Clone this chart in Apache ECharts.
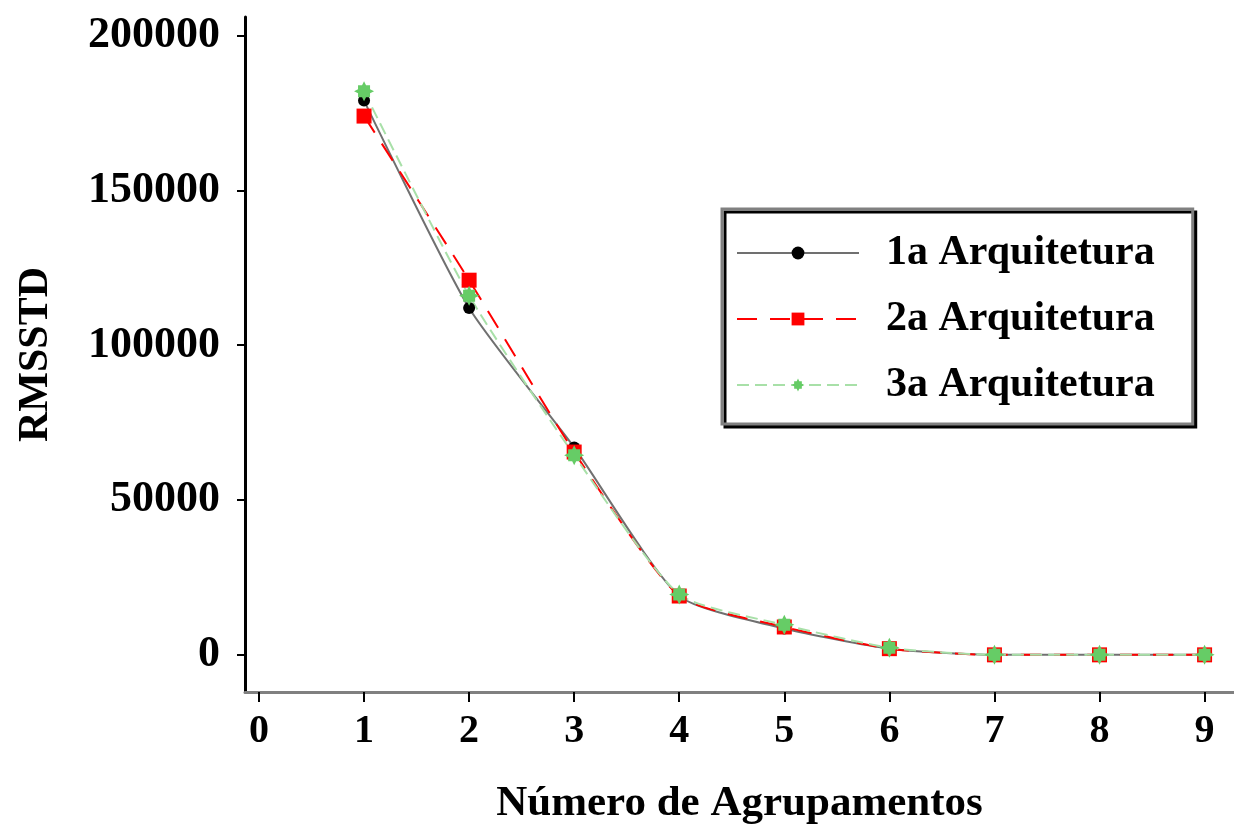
<!DOCTYPE html>
<html>
<head>
<meta charset="utf-8">
<script src="https://cdn.jsdelivr.net/npm/echarts@6/dist/echarts.min.js"></script>
<style>html,body{margin:0;padding:0;background:#fff}#c{width:1234px;height:834px}</style>
</head>
<body>
<div id="c"></div>
<script>
var xValues = [1, 2, 3, 4, 5, 6, 7, 8, 9];
var arq1 = [179000, 112000, 67000, 19000, 8500, 2000, 0, 0, 0];
var arq2 = [174000, 121000, 65500, 19000, 9000, 2000, 0, 0, 0];
var arq3 = [182000, 116000, 64500, 19500, 9700, 2300, 0, 0, 0];
var seriesNames = ['1a Arquitetura', '2a Arquitetura', '3a Arquitetura'];
var yTicks = [0, 50000, 100000, 150000, 200000];
var xTicks = [0, 1, 2, 3, 4, 5, 6, 7, 8, 9];

function pairs(vals) { return xValues.map(function (x, i) { return [x, vals[i]]; }); }
var FONT = 'Liberation Serif';
var starPath = 'path://M0,-10 L2,-6 L6,-6 L6,-2 L10,0 L6,2 L6,6 L2,6 L0,10 L-2,6 L-6,6 L-6,2 L-10,0 L-6,-2 L-6,-6 L-2,-6 Z';

var chart = echarts.init(document.getElementById('c'));
chart.setOption({
  backgroundColor: '#fff',
  animation: false,
  grid: { left: 245, right: 0, top: 17, bottom: 142, containLabel: false },
  xAxis: {
    type: 'value', min: -0.133, max: 9.28,
    name: 'Número de Agrupamentos', nameLocation: 'middle', nameGap: 90,
    nameTextStyle: { fontFamily: FONT, fontWeight: 'bold', fontSize: 43, color: '#000' },
    splitLine: { show: false },
    axisLine: { show: true, onZero: false, lineStyle: { color: '#808080', width: 3 } },
    axisTick: { show: true, customValues: xTicks, length: 10, lineStyle: { color: '#000', width: 2 } },
    axisLabel: { customValues: xTicks, margin: 20, fontFamily: FONT, fontWeight: 'bold', fontSize: 40, color: '#000',
      formatter: function (v) { return String(v); } }
  },
  yAxis: {
    type: 'value', min: -12000, max: 206000,
    name: 'RMSSTD', nameLocation: 'middle', nameGap: 188, nameRotate: 90,
    nameTextStyle: { fontFamily: FONT, fontWeight: 'bold', fontSize: 42, color: '#000' },
    splitLine: { show: false },
    axisLine: { show: true, onZero: false, lineStyle: { color: '#000', width: 3 } },
    axisTick: { show: true, customValues: yTicks, length: 8, lineStyle: { color: '#000', width: 2 } },
    axisLabel: { customValues: yTicks, margin: 25, fontFamily: FONT, fontWeight: 'bold', fontSize: 44, color: '#000',
      formatter: function (v) { return String(v); } }
  },
  legend: {
    left: 722, top: 209, orient: 'vertical',
    data: seriesNames,
    itemWidth: 122, itemHeight: 16, itemGap: 20,
    padding: [21, 38, 16, 14],
    backgroundColor: '#fff',
    borderColor: '#808080', borderWidth: 3,
    shadowColor: '#000', shadowOffsetX: 3, shadowOffsetY: 3, shadowBlur: 0,
    textStyle: { fontFamily: FONT, fontWeight: 'bold', fontSize: 42, color: '#000', lineHeight: 46, padding: [0, 0, 0, 22] }
  },
  series: [
    {
      name: seriesNames[0], type: 'line', data: pairs(arq1), smooth: 0.2,
      symbol: 'circle', symbolSize: 12,
      itemStyle: { color: '#000' },
      lineStyle: { color: '#707070', width: 2, type: 'solid' }
    },
    {
      name: seriesNames[1], type: 'line', data: pairs(arq2), smooth: 0.2,
      symbol: 'rect', symbolSize: 15,
      itemStyle: { color: '#ff0000' },
      lineStyle: { color: '#ff0000', width: 2, type: [20, 13] }
    },
    {
      name: seriesNames[2], type: 'line', data: pairs(arq3), smooth: 0.2,
      symbol: starPath, symbolSize: 20,
      itemStyle: { color: '#66cc66' },
      lineStyle: { color: '#a8e0a8', width: 2, type: [12, 6] }
    }
  ]
});
</script>
</body>
</html>
